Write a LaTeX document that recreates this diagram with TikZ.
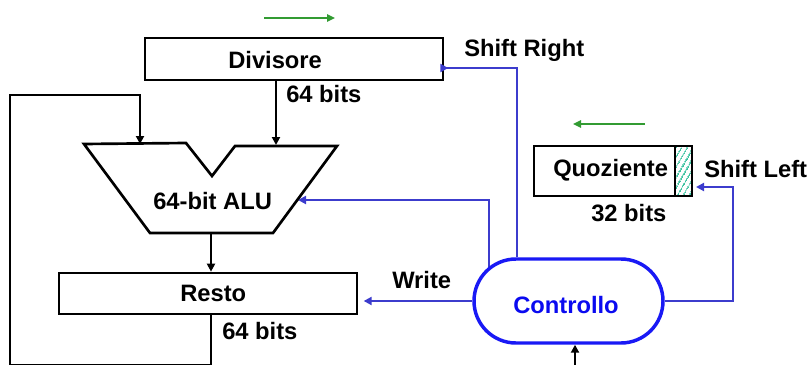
\documentclass[tikz,border=0pt]{standalone}
\usepackage{fontspec}
\setmainfont{Liberation Sans}
\usetikzlibrary{arrows.meta,patterns.meta,backgrounds}
\definecolor{ctlblue}{RGB}{60,60,205}
\definecolor{ctlborder}{RGB}{25,25,245}
\definecolor{ctltext}{RGB}{10,10,240}
\definecolor{arrgreen}{RGB}{50,155,50}
\definecolor{hatchc}{RGB}{60,195,160}
\begin{document}
\begin{tikzpicture}[x=0.75pt,y=-0.75pt,
  txt/.style={font=\fontsize{17.8}{20}\selectfont\bfseries, inner sep=0, anchor=base west},
  regbox/.style={draw, line width=2pt, inner sep=0},
  blk/.style={line width=2pt, -{Triangle[length=6pt,width=6pt]}},
  ctlline/.style={draw=ctlblue, line width=2pt, -{Triangle[length=6pt,width=6pt]}},
  grn/.style={draw=arrgreen, line width=2pt, -{Triangle[length=6pt,width=5.5pt]}},
]
\useasboundingbox (0,0) rectangle (810,364);

% registers
\node[regbox, minimum width=223.5pt, minimum height=31.5pt] (div) at (294,59) {};
\node[txt] (divt) at (228,68) {Divisore};
\node[regbox, minimum width=223.5pt, minimum height=30.75pt] (resto) at (208,293.5) {};
\node[txt] (restot) at (180,301) {Resto};
\node[regbox, minimum width=118.5pt, minimum height=37.5pt] (quoz) at (613,171) {};
\fill[pattern={Lines[angle=60,distance=4pt,line width=1.1pt]}, pattern color=hatchc] (675,146) rectangle (692,196);
\draw[line width=2pt] (675,146) -- (675,196);
\node[regbox, minimum width=118.5pt, minimum height=37.5pt] at (613,171) {};
\node[txt] (quozt) at (553,176) {Quoziente};

% ALU
\draw[line width=2pt, line join=miter] (84,144) -- (186,143) -- (212,176) -- (235,146) -- (337,146) -- (273,233) -- (150,233) -- cycle;
\node[txt] (alut) at (153,209) {64-bit ALU};
\coordinate (aluL) at (140,144);
\coordinate (aluR) at (276,145);
\coordinate (aluO) at (211,233);
\coordinate (aluC) at (298,200);

% labels
\node[txt] at (286,102) {64 bits};
\node[txt] at (222,339) {64 bits};
\node[txt] at (591,221) {32 bits};
\node[txt] at (464,56) {Shift Right};
\node[txt] at (392,288) {Write};
\node[txt] at (704,177) {Shift Left};

% control
\node[draw=ctlborder, line width=2.6pt, fill=white, minimum width=141.75pt, minimum height=63pt, rounded corners=31.5pt, inner sep=0] (ctl) at (568.5,301) {};
\node[txt, text=ctltext] (ctlt) at (513,313) {Controllo};

% black datapath
\draw[blk] (div.south -| aluR) -- (aluR);
\draw[blk] (aluO) -- (resto.north -| aluO);
\coordinate (lpA) at (10,95);
\coordinate (lpB) at (10,365.5);
\draw[blk] (resto.south -| aluO) -- (aluO |- lpB) -- (lpB) -- (lpA) -- (lpA -| aluL) -- (aluL);
\coordinate (ext) at (575,366);
\draw[blk] (ext) -- (ctl.south -| ext);

% control lines
\coordinate (srA) at (517,68);
\draw[ctlline] (ctl.north -| srA) -- (srA) -- (srA -| div.east) -- ++(4,0);
\begin{scope}[on background layer]
\draw[ctlline] (489,301) -- (489,200) -- (aluC);
\end{scope}
\coordinate (wr) at (357,301);
\draw[ctlline] (ctl.west) -- ([xshift=5]wr);
\coordinate (sl) at (733,187);
\draw[ctlline] (ctl.east) -- (ctl.east -| sl) -- (sl) -- ([xshift=2]sl -| quoz.east);

% green direction arrows
\coordinate (g1a) at (264,18);
\coordinate (g1b) at (335,18);
\draw[grn] (g1a) -- (g1b);
\coordinate (g2a) at (645,124);
\coordinate (g2b) at (573,124);
\draw[grn] (g2a) -- (g2b);
\end{tikzpicture}
\end{document}
